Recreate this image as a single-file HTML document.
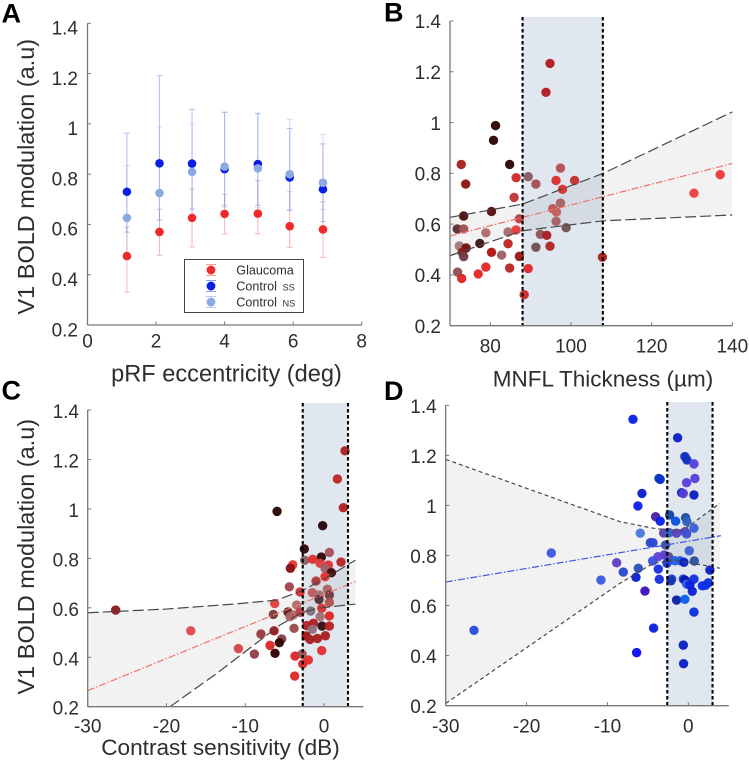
<!DOCTYPE html>
<html lang="en">
<head>
<meta charset="utf-8">
<title>V1 BOLD modulation charts</title>
<style>
html,body{margin:0;padding:0;background:#fff;width:749px;height:762px;overflow:hidden}
svg{display:block;font-family:"Liberation Sans",Arial,sans-serif;filter:blur(0.35px)}
</style>
</head>
<body>
<svg id="fig" width="749" height="762" viewBox="0 0 749 762" xmlns="http://www.w3.org/2000/svg"></svg>
<script>
// ---------- Shared ----------
const boldTicks = [0.2, 0.4, 0.6, 0.8, 1, 1.2, 1.4];
const boldTickLabels = ['0.2', '0.4', '0.6', '0.8', '1', '1.2', '1.4'];

// ---------- Panel A ----------
const aTicks = [0, 2, 4, 6, 8];
const aEccentricity = [1.15, 2.1, 3.05, 4.0, 4.97, 5.9, 6.87];
const glaucomaMean = [0.474, 0.57, 0.626, 0.642, 0.643, 0.593, 0.58];
const glaucomaLow = [0.331, 0.477, 0.51, 0.562, 0.563, 0.509, 0.469];
const glaucomaHigh = [0.589, 0.66, 0.74, 0.72, 0.774, 0.73, 0.69];
const controlSsMean = [0.73, 0.843, 0.842, 0.82, 0.84, 0.787, 0.74];
const controlSsLow = [0.569, 0.618, 0.661, 0.675, 0.676, 0.657, 0.611];
const controlSsHigh = [0.963, 1.192, 1.058, 1.046, 1.042, 0.982, 0.92];
const controlNsMean = [0.626, 0.725, 0.809, 0.83, 0.823, 0.8, 0.766];
const controlNsLow = [0.489, 0.574, 0.63, 0.667, 0.668, 0.655, 0.66];
const controlNsHigh = [0.833, 0.989, 0.998, 1.046, 1.04, 1.018, 0.958];

// ---------- Panel B ----------
const bTicks = [80, 100, 120, 140];
const bThickness = [94.8,93.8,81.3,80.8,84.8,72.8,73.9,86.4,89.4,91.3,97.4,96.3,100.9,97.9,85.9,97.4,73.4,80.3,87.2,95.5,96.4,96.3,98.8,71.8,73.4,78.9,84.4,86.4,92.4,94,77.4,84.4,72.3,74,73,73.4,80.3,82.8,87.2,91.3,94.8,107.8,71.9,72.9,77,78.9,84.8,89.4,88.4,130.5,137];
const bBold = [1.233,1.119,0.988,0.93,0.835,0.835,0.758,0.783,0.787,0.758,0.821,0.772,0.772,0.737,0.705,0.683,0.632,0.65,0.621,0.661,0.648,0.611,0.586,0.581,0.581,0.566,0.569,0.577,0.56,0.556,0.524,0.523,0.514,0.506,0.489,0.472,0.489,0.478,0.473,0.509,0.513,0.47,0.411,0.386,0.404,0.431,0.427,0.425,0.322,0.722,0.795];
const bColors = ['#b01c1c','#b01c1c','#2e0505','#2e0505','#300505','#a82020','#8c1515','#d62b2b','#8a5a5e','#a05055','#b25055','#dd3030','#c93030','#d63030','#c23535','#a56065','#4a0d0d','#5a1010','#b84040','#c05555','#c06060','#a56065','#705055','#5d3030','#a05050','#b06a6a','#a56a6a','#e83a3a','#90575a','#a82020','#401515','#c02525','#a07a80','#701010','#8a1a1a','#704045','#b01515','#a06065','#a01515','#705055','#b02525','#b02020','#905055','#e02525','#e52525','#e22525','#b52a2a','#dd2b2b','#c82a2a','#ee4040','#ea3b3b'];
const bFitX = [70, 88, 108, 140];
const bFitUpper = [0.627, 0.679, 0.8, 1.042];
const bFitLower = [0.476, 0.574, 0.613, 0.636];
const bFitMeanX = [70, 140];
const bFitMean = [0.553, 0.839];
const bBandRange = [88, 107.9];

// ---------- Panel C ----------
const cTicks = [-30, -20, -10, 0];
const cSensitivity = [2.67,1.7,2.46,-5.96,-0.17,-2.5,-0.34,0.68,-2.45,-1.44,-0.5,0.55,2.16,-3.97,-4.27,0.13,0.94,0.13,-1.01,-4.4,-3.04,-1.48,0.43,-0.59,-0.63,0.68,0.68,-6.26,-3.47,-4.57,-6.43,-3.89,-3.04,-4.31,-1.69,-0.29,0.68,-0.5,-0.25,0.68,-2.2,-1.35,-1.48,-3.8,-6.34,-8,-5.37,-5.67,-6.85,-2.28,-1.77,-0.84,0.17,-10.87,-8.84,-6.22,-3.68,-2.79,-1.99,-2.7,-0.29,-3.72,-16.92,-26.45];
const cBold = [1.235,1.121,1.005,0.99,0.932,0.838,0.805,0.824,0.792,0.796,0.78,0.773,0.785,0.774,0.76,0.76,0.742,0.726,0.708,0.685,0.664,0.661,0.675,0.652,0.634,0.652,0.622,0.617,0.611,0.583,0.573,0.571,0.582,0.564,0.587,0.598,0.567,0.564,0.526,0.526,0.528,0.537,0.513,0.517,0.507,0.494,0.474,0.459,0.448,0.486,0.472,0.476,0.487,0.435,0.413,0.416,0.405,0.413,0.389,0.373,0.427,0.324,0.507,0.591];
const cColors = ['#b02020','#c02525','#b52020','#2a0505','#2a0505','#300808','#300808','#a85055','#8a6065','#e03030','#d84040','#e03030','#b82525','#e83535','#8c1010','#a06065','#400a0a','#e83030','#b03a3a','#a04550','#d83030','#c05a5a','#b06060','#a07075','#503035','#703a40','#b05050','#e04040','#b06a6a','#5a2020','#7a3a3a','#b07070','#c04040','#b06065','#80707a','#e03030','#e02828','#a07075','#301015','#b82020','#b52020','#b02020','#907080','#9a4a4a','#9a1a1a','#9a3a3a','#8a4045','#300505','#e02525','#a01515','#a82020','#a82020','#a82020','#d84545','#904045','#300505','#dd2828','#a05055','#dd3030','#e02828','#e03030','#dd2a2a','#e04a4a','#8a1a1a'];
const cUpperX = [-30, -20, -11.5, -6, -2.6, 1.2, 4];
const cUpper = [0.58, 0.595, 0.615, 0.631, 0.672, 0.739, 0.793];
const cLowerX = [-19.55, -13.6, -5.6, -3, -0.9, 4];
const cLower = [0.2, 0.335, 0.53, 0.578, 0.598, 0.615];
const cFitMeanX = [-30, 4];
const cFitMean = [0.265, 0.706];
const cBandRange = [-2.7, 3.05];

// ---------- Panel D ----------
const dSensitivity = [-6.84,-1.32,-0.42,-0.17,0.7,0.82,-0.21,-3.63,-3.47,-0.83,-0.62,0.7,-5.73,-6.23,-4.04,-3.47,-2.31,-0.33,-1.57,-0.17,0.7,-5.94,-3.05,-2.35,-1.45,-0.42,-0.21,-4.7,-4.37,-2.81,0.12,-2.44,-2.97,-3.75,-4.41,-2.64,-1.65,-1.03,-0.54,0.74,-6.18,-3.71,-8.04,-8.86,-10.8,-6.47,-3.59,-2.06,-2.15,-0.62,-0.42,0.7,-0.21,0.2,0.49,1.73,2.14,2.47,2.67,-1.45,-0.42,0.7,-5.36,-4.29,-6.39,-0.62,-0.58,-26.5,-16.94];
const dBold = [1.344,1.27,1.195,1.182,1.166,1.108,1.091,1.108,1.104,1.051,1.048,1.042,1.048,0.998,0.955,0.937,0.962,0.951,0.937,0.935,0.909,0.889,0.89,0.891,0.889,0.895,0.886,0.851,0.851,0.842,0.819,0.795,0.802,0.795,0.778,0.769,0.779,0.779,0.773,0.778,0.749,0.746,0.734,0.771,0.702,0.713,0.705,0.706,0.699,0.706,0.702,0.706,0.686,0.682,0.657,0.679,0.681,0.691,0.742,0.622,0.625,0.574,0.658,0.51,0.412,0.442,0.368,0.501,0.81];
const dColors = ['#0a20e8','#0a20c8','#1030c0','#1030c0','#5a40d8','#5a40d8','#5a40e0','#0a35b0','#0a35d0','#0a2ac0','#5a40d0','#0a20c0','#0a20d0','#0a20ee','#4a20a0','#0a20e8','#1a45a0','#1a50a0','#0a50e0','#3060c0','#3a60d8','#4a78d8','#5a40b0','#3060c8','#5a40b8','#5a40c0','#4050d0','#2a4ad0','#2a4ad0','#3a50a0','#3a60d0','#5a4a90','#5a40c8','#6040d8','#3a50e0','#1a40e0','#2060e0','#2060e0','#0a20c0','#2a50a0','#2a50c0','#1a30e0','#2a4ad0','#6040c8','#3a5ae0','#0a20d0','#1a30e8','#2040d0','#1a30b0','#1a45c8','#0a10b0','#1530e0','#2a60e0','#0a20e0','#1020d0','#0a30f0','#0a30f0','#0a30e0','#0a20d0','#0a20a8','#0a60e8','#0a30e0','#4010c0','#0a20e0','#0a10f0','#0a20c0','#0a20c0','#2a4ae0','#3a5ae0'];
const dUpperX = [-30, -8.45, -4.33, -2.48, -0.62, 3.9];
const dUpper = [1.184, 0.935, 0.909, 0.902, 0.902, 1.008];
const dLowerX = [-30, -8.45, -4.33, -1.65, 3.9];
const dLower = [0.209, 0.689, 0.769, 0.782, 0.749];
const dFitMeanX = [-30, 4.03];
const dFitMean = [0.694, 0.879];
const dBandRange = [-2.6, 3];

// ---------- Helpers ----------
const NS = 'http://www.w3.org/2000/svg';
const fig = document.getElementById('fig');
function mk(tag, attrs, parent) {
  const el = document.createElementNS(NS, tag);
  for (const k in attrs) el.setAttribute(k, attrs[k]);
  (parent || fig).appendChild(el);
  return el;
}
function scale(d0, d1, r0, r1) {
  return function (v) { return r0 + (v - d0) * (r1 - r0) / (d1 - d0); };
}
const AXIS = '#777', TEXT = '#2e2e2e';

function drawAxes(g, sx, sy, cfg) {
  const y0 = sy(0.2), x0 = sx(cfg.xMin), x1 = sx(cfg.xMax);
  const yAxis = mk('line', {x1: x0, x2: x0, y1: sy(0.2), y2: sy(1.4), stroke: AXIS, 'stroke-width': 1.3}, g);
  
  
  const xAxis = mk('line', {x1: x0, x2: x1, y1: y0, y2: y0, stroke: AXIS, 'stroke-width': 1.3}, g);
  
  
  boldTicks.forEach(function (t, i) {
    mk('line', {x1: x0, x2: x0 + 3.5, y1: sy(t), y2: sy(t), stroke: AXIS, 'stroke-width': 1}, g);
    const lab = mk('text', {x: cfg.yLabelRight, y: sy(t) + cfg.yLabelDy, 'text-anchor': 'end', 'font-size': 19, fill: TEXT}, g);
    lab.textContent = boldTickLabels[i];
    
    
  });
  cfg.xTicks.forEach(function (t) {
    mk('line', {x1: sx(t), x2: sx(t), y1: y0, y2: y0 - 3.5, stroke: AXIS, 'stroke-width': 1}, g);
    const lab = mk('text', {x: sx(t), y: y0 + cfg.xLabelDy, 'text-anchor': 'middle', 'font-size': 19, fill: TEXT}, g);
    lab.textContent = String(t);
    
    
  });
}
function pts(xs, ys, sx, sy) {
  return xs.map(function (x, i) { return sx(x).toFixed(2) + ',' + sy(ys[i]).toFixed(2); });
}
function drawBand(g, sx, sy, range, top) {
  const band = mk('rect', {x: sx(range[0]), y: top, width: sx(range[1]) - sx(range[0]), height: sy(0.2) - top, fill: '#e0e7ef'}, g);
  
  
}
function drawBandEdges(g, sx, sy, range, top) {
  range.forEach(function (v) {
    const e = mk('line', {x1: sx(v), x2: sx(v), y1: top, y2: sy(0.2) + 1, stroke: '#000', 'stroke-width': 2.1, 'stroke-dasharray': '3.5 2.5'}, g);
    
    
  });
}
function drawShade(g, poly) {
  const s = mk('polygon', {points: poly.join(' '), fill: '#000', 'fill-opacity': 0.05}, g);
  
  
}
function drawCurve(g, xs, ys, sx, sy, dash) {
  const c = mk('polyline', {points: pts(xs, ys, sx, sy).join(' '), fill: 'none', stroke: '#484848', 'stroke-width': 1.2, 'stroke-dasharray': dash}, g);
  
  
}
function drawFit(g, xs, ys, sx, sy, color) {
  const f = mk('polyline', {points: pts(xs, ys, sx, sy).join(' '), fill: 'none', stroke: color, 'stroke-width': 1.2, 'stroke-dasharray': '7 2 1.5 2'}, g);
  
  
}
function drawPoints(g, xs, ys, colors, sx, sy) {
  xs.forEach(function (x, i) {
    const c = mk('circle', {cx: sx(x), cy: sy(ys[i]), r: 4.7, fill: colors[i], 'fill-opacity': 0.96}, g);
    
    
  });
}
function drawStatic(str, attrs, name) {
  const t = mk('text', attrs);
  t.textContent = str;
  
  
  return t;
}

// ---------- Panel A draw ----------
(function () {
  const g = mk('g', {});
  
  
  const sx = scale(0, 8, 87.5, 361.7), sy = scale(0.2, 1.4, 325, 23.3);
  drawAxes(g, sx, sy, {xMin: 0, xMax: 8, xTicks: aTicks, yLabelRight: 78, yLabelDy: 11.3, xLabelDy: 22.7});
  function errs(low, high, color, name) {
    aEccentricity.forEach(function (x, i) {
      const e = mk('path', {d: 'M' + (sx(x) - 2.8) + ' ' + sy(low[i]) + 'h5.6M' + sx(x) + ' ' + sy(low[i]) + 'V' + sy(high[i]) + 'M' + (sx(x) - 2.8) + ' ' + sy(high[i]) + 'h5.6', stroke: color, 'stroke-width': 1.1, fill: 'none'}, g);
      
      
    });
  }
  errs(glaucomaLow, glaucomaHigh, 'rgba(240,90,90,0.42)', 'glaucoma-error-bar');
  errs(controlSsLow, controlSsHigh, 'rgba(70,95,240,0.38)', 'control-ss-error-bar');
  errs(controlNsLow, controlNsHigh, 'rgba(140,170,235,0.38)', 'control-ns-error-bar');
  aEccentricity.forEach(function (x, i) {
    const c = mk('circle', {cx: sx(x), cy: sy(glaucomaMean[i]), r: 4.3, fill: '#f02a2a'}, g);
    
    
  });
  aEccentricity.forEach(function (x, i) {
    const c = mk('circle', {cx: sx(x), cy: sy(controlSsMean[i]), r: 4.3, fill: '#0a1fe6'}, g);
    
    
  });
  aEccentricity.forEach(function (x, i) {
    const c = mk('circle', {cx: sx(x), cy: sy(controlNsMean[i]), r: 4.3, fill: '#8ea8e2'}, g);
    
    
  });
  // legend
  const lg = mk('g', {}, g);
  
  
  mk('rect', {x: 184.5, y: 259.5, width: 119, height: 53, fill: '#fff', stroke: '#444', 'stroke-width': 1}, lg);
  const rows = [[270, '#f02a2a', 'rgba(240,90,90,.6)', 'Glaucoma', '', 274.5],
                [286, '#0a1fe6', 'rgba(70,95,240,.6)', 'Control ', 'SS', 290.6],
                [302, '#8ea8e2', 'rgba(140,170,235,.6)', 'Control ', 'NS', 306.6]];
  rows.forEach(function (r) {
    mk('path', {d: 'M206 ' + (r[0] - 5.5) + 'h10M211 ' + (r[0] - 5.5) + 'v11M206 ' + (r[0] + 5.5) + 'h10', stroke: r[2], 'stroke-width': 1, fill: 'none'}, lg);
    const m = mk('circle', {cx: 211, cy: r[0], r: 4.4, fill: r[1]}, lg);
    
    
    const t = mk('text', {x: 236.3, y: r[5], 'font-size': 12.6, fill: TEXT}, lg);
    t.textContent = r[3];
    
    
    if (r[4]) {
      const s = mk('text', {x: 282.5, y: r[5], 'font-size': 9.2, fill: TEXT}, lg);
      s.textContent = r[4];
      
      
    }
  });
})();

// ---------- Panel B draw ----------
(function () {
  const g = mk('g', {});
  
  
  const sx = scale(80, 140, 490.3, 732.3), sy = scale(0.2, 1.4, 325.7, 21);
  drawBand(g, sx, sy, bBandRange, 17);
  drawShade(g, pts(bFitX, bFitUpper, sx, sy).concat(pts(bFitX, bFitLower, sx, sy).reverse()));
  drawPoints(g, bThickness, bBold, bColors, sx, sy);
  drawCurve(g, bFitX, bFitUpper, sx, sy, '11 4');
  drawCurve(g, bFitX, bFitLower, sx, sy, '11 4');
  drawFit(g, bFitMeanX, bFitMean, sx, sy, '#f4706a');
  drawBandEdges(g, sx, sy, bBandRange, 17);
  drawAxes(g, sx, sy, {xMin: 70, xMax: 140, xTicks: bTicks, yLabelRight: 441, yLabelDy: 7.2, xLabelDy: 27});
})();

// ---------- Panel C draw ----------
(function () {
  const g = mk('g', {});
  
  
  const sx = scale(-30, 0, 87.7, 324), sy = scale(0.2, 1.4, 706.7, 410);
  drawBand(g, sx, sy, cBandRange, 403);
  const corner = sx(-30).toFixed(2) + ',' + sy(0.2).toFixed(2);
  drawShade(g, pts(cUpperX, cUpper, sx, sy).concat(pts(cLowerX, cLower, sx, sy).reverse(), [corner]));
  drawPoints(g, cSensitivity, cBold, cColors, sx, sy);
  drawCurve(g, cUpperX, cUpper, sx, sy, '11 4');
  drawCurve(g, cLowerX, cLower, sx, sy, '11 4');
  drawFit(g, cFitMeanX, cFitMean, sx, sy, '#f4706a');
  drawBandEdges(g, sx, sy, cBandRange, 403);
  drawAxes(g, sx, sy, {xMin: -30, xMax: 5, xTicks: cTicks, yLabelRight: 79, yLabelDy: 8, xLabelDy: 25.6});
})();

// ---------- Panel D draw ----------
(function () {
  const g = mk('g', {});
  
  
  const sx = scale(-30, 0, 445.7, 688.3), sy = scale(0.2, 1.4, 705.7, 405.3);
  drawBand(g, sx, sy, dBandRange, 402);
  drawShade(g, pts(dUpperX, dUpper, sx, sy).concat(pts(dLowerX, dLower, sx, sy).reverse()));
  drawPoints(g, dSensitivity, dBold, dColors, sx, sy);
  drawCurve(g, dUpperX, dUpper, sx, sy, '4 3');
  drawCurve(g, dLowerX, dLower, sx, sy, '4 3');
  drawFit(g, dFitMeanX, dFitMean, sx, sy, '#3f55e8');
  drawBandEdges(g, sx, sy, dBandRange, 402);
  drawAxes(g, sx, sy, {xMin: -30, xMax: 5, xTicks: cTicks, yLabelRight: 436.7, yLabelDy: 7.5, xLabelDy: 27});
})();

// ---------- Titles and panel letters ----------
drawStatic('A', {x: 1.5, y: 22.7, 'font-size': 27, 'font-weight': 700, fill: '#000'}, 'panel-letter-a');
drawStatic('B', {x: 384, y: 21.7, 'font-size': 27, 'font-weight': 700, fill: '#000'}, 'panel-letter-b');
drawStatic('C', {x: 1.5, y: 399.5, 'font-size': 27, 'font-weight': 700, fill: '#000'}, 'panel-letter-c');
drawStatic('D', {x: 384, y: 400, 'font-size': 27, 'font-weight': 700, fill: '#000'}, 'panel-letter-d');
drawStatic('V1 BOLD modulation (a.u)', {transform: 'translate(34 176.7) rotate(-90)', 'text-anchor': 'middle', 'font-size': 23.5, fill: TEXT}, 'panel-a-y-axis-title');
drawStatic('V1 BOLD modulation (a.u)', {transform: 'translate(34 556.7) rotate(-90)', 'text-anchor': 'middle', 'font-size': 23.5, fill: TEXT}, 'panel-c-y-axis-title');
drawStatic('pRF eccentricity (deg)', {x: 226.5, y: 381.7, 'text-anchor': 'middle', 'font-size': 23.6, fill: TEXT}, 'panel-a-x-axis-title');
drawStatic('MNFL Thickness (\u00b5m)', {x: 603, y: 386.7, 'text-anchor': 'middle', 'font-size': 22.5, fill: TEXT}, 'panel-b-x-axis-title');
drawStatic('Contrast sensitivity (dB)', {x: 220.5, y: 755, 'text-anchor': 'middle', 'font-size': 22.6, fill: TEXT}, 'panel-c-x-axis-title');
</script>
</body>
</html>
